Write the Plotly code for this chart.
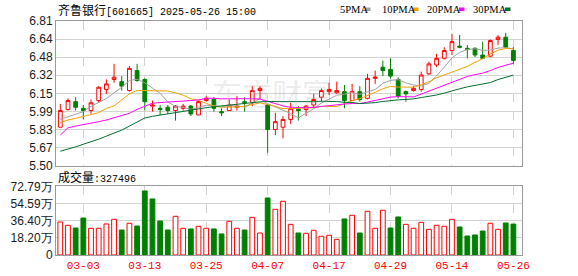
import plotly.graph_objects as go

# ---------------- data ----------------
dates = ["02-26", "02-27", "02-28", "03-03", "03-04", "03-05", "03-06", "03-07", "03-10", "03-11",
         "03-12", "03-13", "03-14", "03-17", "03-18", "03-19", "03-20", "03-21", "03-24", "03-25",
         "03-26", "03-27", "03-28", "03-31", "04-01", "04-02", "04-03", "04-07", "04-08", "04-09",
         "04-10", "04-11", "04-14", "04-15", "04-16", "04-17", "04-18", "04-21", "04-22", "04-23",
         "04-24", "04-25", "04-28", "04-29", "04-30", "05-06", "05-07", "05-08", "05-09", "05-12",
         "05-13", "05-14", "05-15", "05-16", "05-19", "05-20", "05-21", "05-22", "05-23", "05-26"]

opens = [5.85, 6.01, 6.08, 6.02, 6.00, 6.09, 6.19, 6.28, 6.26, 6.18,
         6.36, 6.28, 6.04, 6.02, 6.03, 6.00, 6.02, 6.04, 5.96, 6.09,
         6.10, 5.99, 6.00, 6.03, 6.08, 6.07, 6.18, 6.05, 5.83, 5.85,
         5.92, 6.01, 6.01, 6.05, 6.12, 6.17, 6.16, 6.17, 6.09, 6.17,
         6.11, 6.29, 6.39, 6.37, 6.28, 6.17, 6.18, 6.19, 6.33, 6.41,
         6.47, 6.54, 6.58, 6.56, 6.56, 6.50, 6.49, 6.64, 6.66, 6.54]
highs = [6.06, 6.11, 6.12, 6.05, 6.10, 6.22, 6.28, 6.42, 6.31, 6.40,
         6.42, 6.29, 6.09, 6.05, 6.05, 6.05, 6.06, 6.05, 6.09, 6.13,
         6.12, 6.02, 6.10, 6.13, 6.12, 6.22, 6.22, 6.06, 5.98, 5.95,
         6.07, 6.04, 6.05, 6.15, 6.20, 6.25, 6.26, 6.23, 6.24, 6.22,
         6.33, 6.36, 6.45, 6.47, 6.30, 6.18, 6.22, 6.35, 6.44, 6.51,
         6.57, 6.69, 6.68, 6.59, 6.57, 6.62, 6.64, 6.68, 6.70, 6.57]
lows = [5.85, 6.00, 6.00, 5.92, 5.97, 6.07, 6.15, 6.25, 6.18, 6.17,
        6.26, 6.00, 5.99, 5.96, 5.97, 5.91, 6.00, 5.95, 5.96, 6.08,
        5.99, 5.95, 6.00, 6.00, 5.99, 6.04, 6.10, 5.62, 5.78, 5.75,
        5.88, 5.91, 5.95, 6.03, 6.08, 6.14, 6.15, 6.02, 6.09, 6.08,
        6.10, 6.24, 6.31, 6.29, 6.11, 6.08, 6.17, 6.17, 6.32, 6.39,
        6.46, 6.50, 6.56, 6.47, 6.48, 6.47, 6.48, 6.59, 6.57, 6.42]
closes = [6.00, 6.09, 6.03, 6.00, 6.07, 6.21, 6.24, 6.30, 6.22, 6.38,
          6.27, 6.08, 6.05, 6.01, 6.00, 6.04, 6.04, 5.97, 6.08, 6.11,
          6.02, 5.98, 6.05, 6.04, 6.07, 6.18, 6.20, 5.83, 5.90, 5.92,
          6.02, 6.00, 6.04, 6.10, 6.18, 6.19, 6.18, 6.09, 6.17, 6.10,
          6.29, 6.30, 6.36, 6.31, 6.13, 6.15, 6.20, 6.32, 6.42, 6.47,
          6.54, 6.62, 6.57, 6.55, 6.50, 6.47, 6.63, 6.66, 6.57, 6.45]

ma5 = [5.921, 5.945, 5.969, 5.990, 6.038, 6.070, 6.108, 6.160, 6.210, 6.270,
       6.282, 6.250, 6.200, 6.155, 6.078, 6.036, 6.028, 6.012, 6.026, 6.048,
       6.044, 6.032, 6.048, 6.040, 6.032, 6.064, 6.108, 6.062, 6.034, 6.006,
       5.974, 5.934, 5.976, 6.016, 6.068, 6.102, 6.138, 6.148, 6.162, 6.146,
       6.166, 6.190, 6.244, 6.272, 6.278, 6.250, 6.230, 6.222, 6.244, 6.312,
       6.390, 6.474, 6.524, 6.550, 6.556, 6.542, 6.544, 6.562, 6.566, 6.556]
ma10 = [5.890, 5.915, 5.930, 5.945, 5.960, 5.981, 6.020, 6.041, 6.096, 6.150,
        6.181, 6.180, 6.182, 6.183, 6.176, 6.159, 6.139, 6.106, 6.092, 6.065,
        6.040, 6.030, 6.030, 6.033, 6.039, 6.053, 6.069, 6.055, 6.037, 6.018,
        6.018, 6.020, 6.019, 6.025, 6.037, 6.038, 6.036, 6.062, 6.089, 6.107,
        6.134, 6.164, 6.196, 6.217, 6.212, 6.208, 6.210, 6.233, 6.258, 6.295,
        6.320, 6.352, 6.373, 6.397, 6.434, 6.466, 6.509, 6.543, 6.558, 6.556]
ma20 = [5.779, 5.845, 5.860, 5.872, 5.885, 5.900, 5.915, 5.933, 5.954, 5.975,
        6.011, 6.042, 6.066, 6.072, 6.075, 6.081, 6.087, 6.090, 6.096, 6.110,
        6.111, 6.105, 6.106, 6.108, 6.108, 6.106, 6.104, 6.081, 6.065, 6.042,
        6.029, 6.025, 6.025, 6.029, 6.038, 6.046, 6.053, 6.059, 6.063, 6.063,
        6.076, 6.092, 6.108, 6.121, 6.125, 6.123, 6.123, 6.148, 6.174, 6.201,
        6.227, 6.258, 6.285, 6.307, 6.323, 6.337, 6.360, 6.388, 6.408, 6.426]
ma30 = [5.634, 5.652, 5.673, 5.697, 5.718, 5.742, 5.770, 5.794, 5.824, 5.860,
        5.900, 5.933, 5.948, 5.960, 5.972, 5.984, 5.996, 6.005, 6.017, 6.026,
        6.035, 6.042, 6.051, 6.060, 6.069, 6.075, 6.078, 6.081, 6.081, 6.079,
        6.080, 6.077, 6.077, 6.080, 6.084, 6.083, 6.081, 6.074, 6.073, 6.063,
        6.064, 6.071, 6.082, 6.092, 6.096, 6.100, 6.105, 6.117, 6.128, 6.140,
        6.157, 6.179, 6.196, 6.213, 6.228, 6.237, 6.252, 6.279, 6.302, 6.319]

volumes = [350000, 315000, 286000, 392000, 283000, 283000, 329000, 378000, 265000, 336000,
           307000, 679000, 594000, 360000, 265000, 410000, 283000, 276000, 304000, 283000,
           276000, 223000, 357000, 283000, 265000, 399000, 233000, 604000, 484000, 569000,
           325000, 233000, 230000, 262000, 198000, 209000, 166000, 382000, 421000, 233000,
           463000, 283000, 474000, 286000, 403000, 325000, 283000, 346000, 272000, 315000,
           304000, 378000, 297000, 201000, 212000, 254000, 336000, 272000, 339000, 327496]
vol_up = [1, 1, 0, 0, 1, 1, 1, 1, 0, 1,
          0, 0, 0, 0, 0, 1, 1, 0, 1, 1,
          0, 0, 1, 1, 0, 1, 1, 0, 1, 1,
          1, 0, 1, 1, 1, 1, 1, 0, 1, 0,
          1, 1, 1, 0, 0, 1, 1, 1, 1, 1,
          1, 1, 0, 0, 0, 0, 1, 1, 0, 0]

date_ticks = ["03-03", "03-13", "03-25", "04-07", "04-17", "04-29", "05-14", "05-26"]
price_min, price_step = 5.5045, 0.16269
price_tick_labels = ["5.50", "5.67", "5.83", "5.99", "6.15", "6.32", "6.48", "6.64", "6.81"]
vol_max = 727900
vol_tick_labels = ["0", "18.20万", "36.40万", "54.59万", "72.79万"]
ma_names = ["5PMA", "10PMA", "20PMA", "30PMA"]
title_name = "齐鲁银行"
title_rest = "[601665] 2025-05-26 15:00"
vol_label = "成交量"
last_volume = "327496"

# ---------------- styles ----------------
W, H = 578, 276
ML, MR, MT, MB = 56, 56, 21, 21
PW, PH = W - ML - MR, H - MT - MB
UP, DOWN = "#ff0000", "#008000"
MA_COLORS = ["#a0a0a0", "#f2a000", "#ff00ff", "#006f2f"]
GRID = "#d3d3d3"
BORDER = "#9a9a9a"
MONO = "Liberation Mono, DejaVu Sans Mono, monospace"
CJK = "Noto Sans CJK SC"


def xp(px):
    return (px - ML) / PW


def yp(py):
    return (H - MB - py) / PH


fig = go.Figure()

fig.add_trace(go.Candlestick(
    x=dates, open=opens, high=highs, low=lows, close=closes,
    increasing=dict(line=dict(color=UP, width=1), fillcolor="#ffffff"),
    decreasing=dict(line=dict(color=DOWN, width=1), fillcolor=DOWN),
    whiskerwidth=0, xaxis="x", yaxis="y", showlegend=False, hoverinfo="skip"))

for vals, col in zip([ma5, ma10, ma20, ma30], MA_COLORS):
    fig.add_trace(go.Scatter(x=dates, y=vals, mode="lines",
                             line=dict(color=col, width=1),
                             xaxis="x", yaxis="y", showlegend=False, hoverinfo="skip"))

fig.add_trace(go.Bar(
    x=dates, y=volumes, width=0.62,
    marker=dict(color=["#ffffff" if u else DOWN for u in vol_up],
                line=dict(color=[UP if u else DOWN for u in vol_up], width=1)),
    xaxis="x2", yaxis="y2", showlegend=False, hoverinfo="skip"))

price_tickvals = [price_min + i * price_step for i in range(len(price_tick_labels))]
vol_tickvals = [vol_max * i / (len(vol_tick_labels) - 1) for i in range(len(vol_tick_labels))]

xcommon = dict(type="category", categoryorder="array", categoryarray=dates,
               range=[-0.56, len(dates) - 1 + 1.12],
               tickmode="array", tickvals=date_ticks,
               showgrid=True, gridcolor=GRID, griddash="dash", gridwidth=1,
               showline=True, linecolor=BORDER, linewidth=1, mirror=True,
               ticks="", zeroline=False, fixedrange=True, automargin=False)
ycommon = dict(showgrid=True, gridcolor=GRID, gridwidth=1, showline=True,
               linecolor=BORDER, linewidth=1, mirror=True, ticks="",
               zeroline=False, tickfont=dict(family="Liberation Sans, Arial", size=12, color="#1a1a1a"),
               fixedrange=True, automargin=False)

fig.update_layout(
    template="none",
    width=W, height=H, autosize=False, margin=dict(l=ML, r=MR, t=MT, b=MB, pad=0, autoexpand=False),
    paper_bgcolor="#ffffff", plot_bgcolor="#ffffff",
    showlegend=False,
    xaxis=dict(xcommon, anchor="y", domain=[0, 1], showticklabels=False,
               rangeslider=dict(visible=False)),
    yaxis=dict(ycommon, anchor="x", domain=[yp(165.6), 1],
               range=[price_min, price_min + price_step * (len(price_tick_labels) - 1)],
               tickvals=price_tickvals, ticktext=price_tick_labels),
    xaxis2=dict(xcommon, anchor="y2", domain=[0, 1], matches="x", showticklabels=True,
                ticktext=date_ticks,
                tickfont=dict(family=MONO, size=11, color="#ff0000")),
    yaxis2=dict(ycommon, anchor="x2", domain=[0, yp(186.3)],
                range=[0, vol_max], tickvals=vol_tickvals, ticktext=vol_tick_labels),
    bargap=0.3,
)

ann = []
ann.append(dict(xref="paper", yref="paper", x=xp(56), y=yp(9.5), xanchor="left", yanchor="middle",
                text=f"<span style=\"font-family:{CJK};font-size:12px\">{title_name}</span>{title_rest}",
                showarrow=False, font=dict(family=MONO, size=10, color="#000000")))
ann.append(dict(xref="paper", yref="paper", x=xp(56), y=yp(176.5), xanchor="left", yanchor="middle",
                text=f"<span style=\"font-family:{CJK};font-size:12px\">{vol_label}</span>:{last_volume}",
                showarrow=False, font=dict(family=MONO, size=10, color="#000000")))

legend_x = [338, 380, 425, 471]
square_x = [365, 413, 459, 505]
for name, lx in zip(ma_names, legend_x):
    ann.append(dict(xref="paper", yref="paper", x=xp(lx), y=yp(9.5), xanchor="left", yanchor="middle",
                    text=name, showarrow=False,
                    font=dict(family="Liberation Serif, DejaVu Serif, serif", size=10.5, color="#000000")))

ann.append(dict(xref="paper", yref="paper", x=xp(272), y=yp(92), xanchor="center", yanchor="middle",
                text="东方财富", showarrow=False,
                font=dict(family=CJK, size=30, color="rgba(170,170,170,0.22)")))

shapes = []
for sx, col in zip(square_x, MA_COLORS):
    shapes.append(dict(type="rect", xref="paper", yref="paper",
                       x0=xp(sx), x1=xp(sx + 5.5), y0=yp(11), y1=yp(7.5),
                       fillcolor=col, line=dict(width=0)))

fig.update_layout(annotations=ann, shapes=shapes)

fig.write_html("out.html")
